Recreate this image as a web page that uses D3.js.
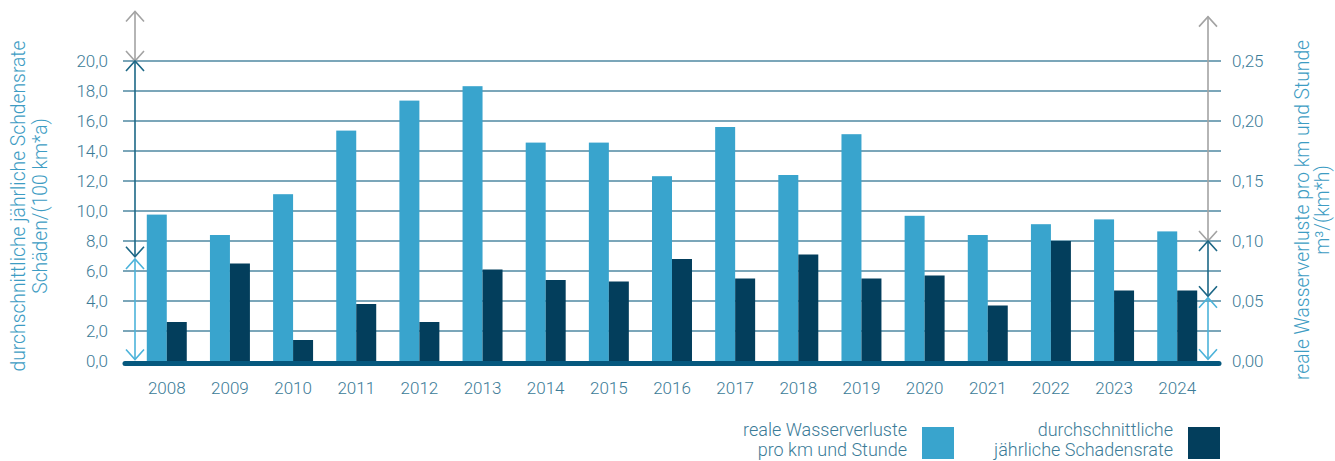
<!DOCTYPE html>
<html>
<head>
<meta charset="utf-8">
<script src="https://cdn.jsdelivr.net/npm/d3@7"></script>
<style>
  body { margin: 0; background: #fff; }
  text { font-family: Roboto, "Open Sans", sans-serif; font-weight: 300; }
</style>
</head>
<body>
<script>
// years on the x axis
var years = ["2008","2009","2010","2011","2012","2013","2014","2015","2016",
             "2017","2018","2019","2020","2021","2022","2023","2024"];
// reale Wasserverluste, m3/(km*h) (right axis)
var verluste = [0.122, 0.105, 0.139, 0.192, 0.217, 0.229, 0.182, 0.182, 0.154,
                0.195, 0.155, 0.189, 0.121, 0.105, 0.114, 0.118, 0.108];
// durchschnittliche jaehrliche Schadensrate, Schaeden/(100 km*a) (left axis)
var schadensrate = [2.6, 6.5, 1.4, 3.8, 2.6, 6.1, 5.4, 5.3, 6.8,
                    5.5, 7.1, 5.5, 5.7, 3.7, 8.0, 4.7, 4.7];
// tick labels
var leftTicks = [0, 2, 4, 6, 8, 10, 12, 14, 16, 18, 20];
var rightTicks = [0, 0.05, 0.10, 0.15, 0.20, 0.25];
// range arrows (axis units): [from, to, colour]
var leftArrows = [[23.3, 20, "#a3a3a3"], [20, 6.95, "#1c6786"], [6.8, 0.1, "#4cb3da"]];
var rightArrows = [[0.287, 0.10, "#a3a3a3"], [0.10, 0.054, "#1c6786"], [0.0527, 0.0015, "#4cb3da"]];

var width = 1335, height = 461;
var lightBlue = "#39a4cd", darkBlue = "#033e5c";
var tickColor = "#3b7b97", titleColor = "#3d9cc3";

var svg = d3.select("body").append("svg")
    .attr("width", width)
    .attr("height", height);

// scales
var yLeft = d3.scaleLinear().domain([0, 20]).range([361, 61]);
var yRight = d3.scaleLinear().domain([0, 0.25]).range([361, 61]);
var x = d3.scaleBand().domain(years).range([135.2, 1208.8])
    .paddingInner(0.367).paddingOuter(0.1835);
var xSub = d3.scaleBand().domain(["v", "s"]).range([0, x.bandwidth()]);

// gridlines
svg.append("g").selectAll("line")
    .data(leftTicks.slice(1))
    .enter().append("line")
    .attr("x1", 123).attr("x2", 1221)
    .attr("y1", function(d){ return yLeft(d); })
    .attr("y2", function(d){ return yLeft(d); })
    .attr("stroke", "#7ba6b9")
    .attr("stroke-width", 2);

// bars
var groups = svg.append("g").selectAll("g")
    .data(years)
    .enter().append("g")
    .attr("transform", function(d){ return "translate(" + x(d) + ",0)"; });

groups.append("rect")
    .attr("x", xSub("v"))
    .attr("width", xSub.bandwidth())
    .attr("y", function(d, i){ return yRight(verluste[i]); })
    .attr("height", function(d, i){ return yRight(0) - yRight(verluste[i]); })
    .attr("fill", lightBlue);

groups.append("rect")
    .attr("x", xSub("s"))
    .attr("width", xSub.bandwidth())
    .attr("y", function(d, i){ return yLeft(schadensrate[i]); })
    .attr("height", function(d, i){ return yLeft(0) - yLeft(schadensrate[i]); })
    .attr("fill", darkBlue);

// baseline
svg.append("line")
    .attr("x1", 125).attr("x2", 1219)
    .attr("y1", yLeft(0) + 2.5).attr("y2", yLeft(0) + 2.5)
    .attr("stroke", "#06587e")
    .attr("stroke-width", 5)
    .attr("stroke-linecap", "round");

// left axis labels
var fmtL = d3.format(".1f");
svg.append("g").selectAll("text")
    .data(leftTicks)
    .enter().append("text")
    .attr("x", 108)
    .attr("y", function(d){ return yLeft(d); })
    .attr("dy", "0.36em")
    .attr("text-anchor", "end")
    .attr("font-size", 17)
    .attr("fill", tickColor)
    .text(function(d){ return fmtL(d).replace(".", ","); });

// right axis labels
var fmtR = d3.format(".2f");
svg.append("g").selectAll("text")
    .data(rightTicks)
    .enter().append("text")
    .attr("x", 1232)
    .attr("y", function(d){ return yRight(d); })
    .attr("dy", "0.36em")
    .attr("font-size", 17)
    .attr("fill", tickColor)
    .text(function(d){ return fmtR(d).replace(".", ","); });

// year labels
svg.append("g").selectAll("text")
    .data(years)
    .enter().append("text")
    .attr("x", function(d){ return x(d) + x.bandwidth() / 2; })
    .attr("y", 388)
    .attr("dy", "0.36em")
    .attr("text-anchor", "middle")
    .attr("font-size", 17)
    .attr("fill", tickColor)
    .text(function(d){ return d; });

// range arrows with open heads on both ends
function drawArrows(list, scale, xPos){
    var g = svg.append("g");
    list.forEach(function(a){
        var y1 = scale(a[0]), y2 = scale(a[1]);
        var dir = y2 > y1 ? 1 : -1;
        g.append("line")
            .attr("x1", xPos).attr("x2", xPos)
            .attr("y1", y1).attr("y2", y2)
            .attr("stroke", a[2]).attr("stroke-width", 1.6);
        [[y1, -dir], [y2, dir]].forEach(function(h){
            var tip = h[0], s = h[1];
            g.append("path")
                .attr("d", "M" + (xPos - 9) + "," + (tip - s * 10) + "L" + xPos + "," + tip +
                           "L" + (xPos + 9) + "," + (tip - s * 10))
                .attr("fill", "none")
                .attr("stroke", a[2]).attr("stroke-width", 1.6);
        });
    });
}
drawArrows(leftArrows, yLeft, 135);
drawArrows(rightArrows, yRight, 1208);

// axis titles
var leftTitle = svg.append("text")
    .attr("transform", "translate(0,206) rotate(-90)")
    .attr("text-anchor", "middle")
    .attr("font-size", 19.3)
    .attr("fill", titleColor);
leftTitle.append("tspan").attr("x", 0).attr("y", 25).text("durchschnittliche jährliche Schdensrate");
leftTitle.append("tspan").attr("x", 0).attr("y", 47).text("Schäden/(100 km*a)");

var rightTitle = svg.append("text")
    .attr("transform", "translate(0,210) rotate(-90)")
    .attr("text-anchor", "middle")
    .attr("font-size", 19.3)
    .attr("fill", titleColor);
rightTitle.append("tspan").attr("x", 0).attr("y", 1309).text("reale Wasserverluste pro km und Stunde");
rightTitle.append("tspan").attr("x", 0).attr("y", 1329).text("m³/(km*h)");

// legend
var legend = [
    {label: ["reale Wasserverluste", "pro km und Stunde"], color: lightBlue, x: 922},
    {label: ["durchschnittliche", "jährliche Schadensrate"], color: darkBlue, x: 1188}
];
var lg = svg.append("g").selectAll("g")
    .data(legend)
    .enter().append("g");
lg.append("rect")
    .attr("x", function(d){ return d.x; })
    .attr("y", 427)
    .attr("width", 32).attr("height", 32)
    .attr("fill", function(d){ return d.color; });
var lt = lg.append("text")
    .attr("text-anchor", "end")
    .attr("font-size", 18)
    .attr("fill", tickColor);
lt.append("tspan")
    .attr("x", function(d){ return d.x - 15; })
    .attr("y", 436)
    .text(function(d){ return d.label[0]; });
lt.append("tspan")
    .attr("x", function(d){ return d.x - 15; })
    .attr("y", 456)
    .text(function(d){ return d.label[1]; });
</script>
</body>
</html>
